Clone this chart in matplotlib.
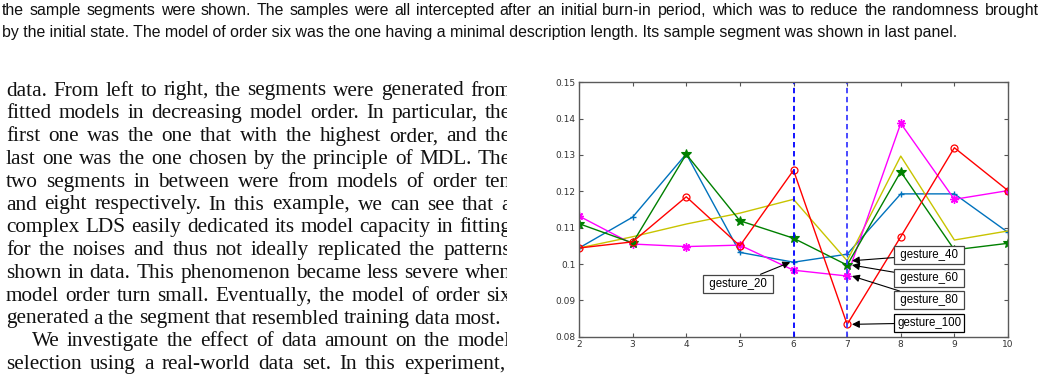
import matplotlib
matplotlib.use("Agg")
import matplotlib.pyplot as plt
from matplotlib.ticker import FormatStrFormatter
from matplotlib.transforms import Bbox, TransformedBbox


# data
orders = [2, 3, 4, 5, 6, 7, 8, 9, 10]
gesture_20 = [0.1044, 0.1129, 0.1303, 0.1032, 0.1005, 0.1027, 0.1193, 0.1193, 0.1087]
gesture_40 = [0.1044, 0.1075, 0.1110, 0.1140, 0.1178, 0.1009, 0.1297, 0.1066, 0.1091]
gesture_60 = [0.1111, 0.1058, 0.1302, 0.1119, 0.1071, 0.0997, 0.1254, 0.1039, 0.1057]
gesture_80 = [0.1132, 0.1055, 0.1048, 0.1052, 0.0983, 0.0967, 0.1387, 0.1178, 0.1202]
gesture_100 = [0.1044, 0.1061, 0.1185, 0.1050, 0.1258, 0.0834, 0.1075, 0.1320, 0.1202]
mdl_orders = [6, 7]
yticks = [0.08, 0.09, 0.10, 0.11, 0.12, 0.13, 0.14, 0.15]

caption = [
    "the sample segments were shown. The samples were all intercepted after an initial burn-in period, which was to reduce the randomness brought",
    "by the initial state. The model of order six was the one having a minimal description length. Its sample segment was shown in last panel.",
]
body = [
    "data. From left to right, the segments were generated from",
    "fitted models in decreasing model order. In particular, the",
    "first one was the one that with the highest order, and the",
    "last one was the one chosen by the principle of MDL. The",
    "two segments in between were from models of order ten",
    "and eight respectively. In this example, we can see that a",
    "complex LDS easily dedicated its model capacity in fitting",
    "for the noises and thus not ideally replicated the patterns",
    "shown in data. This phenomenon became less severe when",
    "model order turn small. Eventually, the model of order six",
    "generated a the segment that resembled training data most.",
    "We investigate the effect of data amount on the model",
    "selection using a real-world data set. In this experiment,",
]

W, H = 1044, 377


def px(x, y):
    return x / W, 1 - y / H


def put_line(fig, renderer, text, x0, x1, y, justify=True, clip_x=None, **kw):
    if not justify:
        objs = [fig.text(*px(x0, y), text, ha="left", va="baseline", **kw)]
    else:
        words = text.split()
        objs = [fig.text(0, 0, w, ha="left", va="baseline", **kw) for w in words]
        widths = [o.get_window_extent(renderer).width for o in objs]
        gap = (x1 - x0 - sum(widths)) / (len(words) - 1)
        x = x0
        for o, w in zip(objs, widths):
            o.set_position(px(x, y))
            x += w + gap
    if clip_x is not None:
        box = TransformedBbox(Bbox([[0, 0], [clip_x / W, 1]]), fig.transFigure)
        for o in objs:
            o.set_clip_box(box)
            o.set_clip_on(True)


def main():
    fig = plt.figure(figsize=(W / 100, H / 100), dpi=100)
    renderer = fig.canvas.get_renderer()

    # caption at the top
    cap_kw = dict(family=["Liberation Sans", "DejaVu Sans"], fontsize=11.45, color="#111111")
    put_line(fig, renderer, caption[0], 2, 1039, 15, **cap_kw)
    put_line(fig, renderer, caption[1], 2, 0, 36.5, justify=False, **cap_kw)

    # body text on the left, clipped at the right edge
    body_kw = dict(family=["Liberation Serif", "DejaVu Serif"], fontsize=15.3, color="#111111")
    for i, line in enumerate(body):
        y = 95.5 + 22.8 * i
        x0 = 31.7 if i == 11 else 6
        x1 = {10: 501, 12: 505}.get(i, 511)
        put_line(fig, renderer, line, x0, x1, y, clip_x=507, **body_kw)

    # chart
    ax = fig.add_axes([579 / W, (H - 336.7) / H, 429 / W, 254.4 / H])
    lw = 1.0
    ax.plot(orders, gesture_20, color="#0072BD", lw=lw, marker="+", ms=5, mew=1)
    ax.plot(orders, gesture_40, color="#C8C400", lw=lw)
    ax.plot(orders, gesture_80, color="#FF00FF", lw=lw, marker=(8, 2, 0), ms=6, mew=1)
    ax.plot(orders, gesture_60, color="#008000", lw=lw, marker="*", ms=7, mew=0.8)
    ax.plot(orders, gesture_100, color="#FF0000", lw=lw, marker="o", ms=5, mfc="none", mew=0.9)

    ax.axvline(mdl_orders[0], color="#0000FF", lw=1.3, ls="--", dashes=(3, 2))
    ax.axvline(mdl_orders[1], color="#3C3CFF", lw=1.3, ls="--", dashes=(3, 2))

    ax.set_xlim(orders[0], orders[-1])
    ax.set_ylim(yticks[0], yticks[-1])
    ax.set_xticks(orders)
    ax.set_yticks(yticks)
    ax.yaxis.set_major_formatter(FormatStrFormatter("%g"))
    ax.tick_params(direction="in", length=2.8, width=0.8, labelsize=6.5,
                   colors="#555555", labelcolor="#333333", pad=2.5,
                   top=True, right=True)
    for s in ax.spines.values():
        s.set_color("#5a5a5a")
        s.set_linewidth(1.0)

    # text arrows
    box_kw = dict(boxstyle="square,pad=0.25", fc="white", lw=0.9)
    arrow_kw = dict(arrowstyle="-|>", color="k", lw=0.8, shrinkA=0, shrinkB=0,
                    mutation_scale=11)
    notes = [
        (" gesture_20 ", (orders[4] - 0.06, gesture_20[4]), (4.957, 0.0946), "#444444"),
        (" gesture_40 ", (orders[5] + 0.09, gesture_40[5]), (8.53, 0.1025), "#444444"),
        (" gesture_60 ", (orders[5] + 0.09, gesture_60[5]), (8.53, 0.0961), "#444444"),
        (" gesture_80 ", (orders[5] + 0.09, gesture_80[5]), (8.53, 0.0900), "#444444"),
        ("gesture_100", (orders[5] + 0.09, gesture_100[5]), (8.53, 0.0838), "#000000"),
    ]
    for label, tip, pos, ec in notes:
        ax.annotate(label, xy=tip, xytext=pos, ha="center", va="center",
                    fontsize=8.3, family=["Liberation Sans", "DejaVu Sans"],
                    bbox=dict(ec=ec, **box_kw), arrowprops=arrow_kw)

    fig.savefig("out.png", dpi=100)
    plt.close(fig)


if __name__ == "__main__":
    main()
